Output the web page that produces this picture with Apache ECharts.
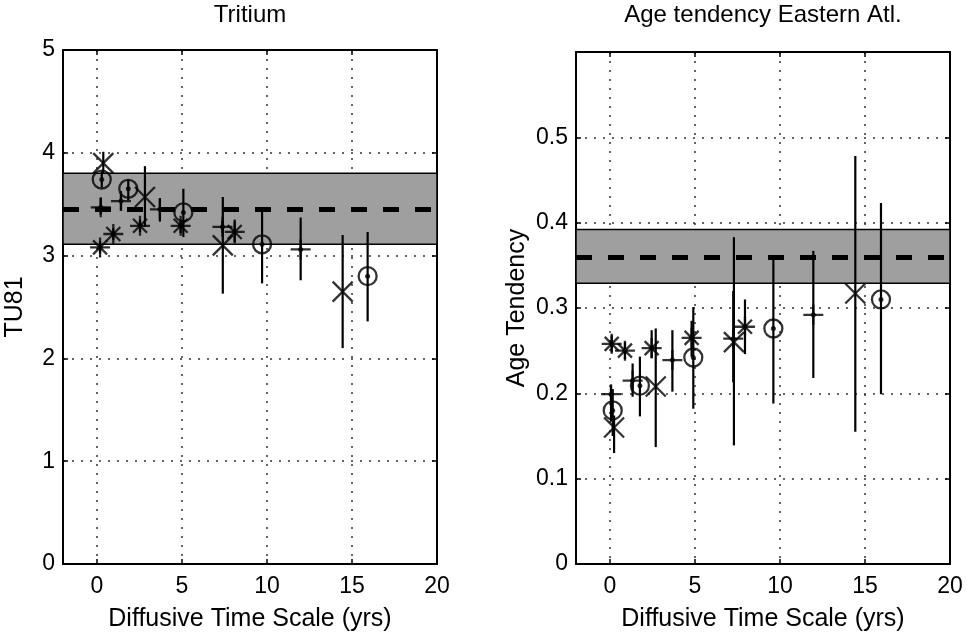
<!DOCTYPE html>
<html>
<head>
<meta charset="utf-8">
<title>Tritium / Age tendency</title>
<script src="https://cdn.jsdelivr.net/npm/echarts@6/dist/echarts.min.js"></script>
<style>
    html, body { margin: 0; padding: 0; background: #fff; }
    #chart { width: 967px; height: 638px; }
</style>
</head>
<body>
<div id="chart"></div>
<script>

// ticks shared by both panels
var x_ticks = [0, 5, 10, 15, 20];
var tu_y_ticks = [0, 1, 2, 3, 4, 5];
var age_y_ticks = [0, 0.1, 0.2, 0.3, 0.4, 0.5];

//----------- Tritium panel data ---------//
var tu_band = [3.11, 3.80];
var tu_mean = 3.45;

var tu_circle_x  = [0.28, 1.84, 5.08, 9.71, 15.92];
var tu_circle_y  = [3.74, 3.65, 3.42, 3.11, 2.80];
var tu_circle_lo = [3.66, 3.54, 3.18, 2.73, 2.36];
var tu_circle_hi = [3.82, 3.74, 3.65, 3.43, 3.23];

var tu_cross_x  = [0.37, 2.82, 7.40, 14.45];
var tu_cross_y  = [3.90, 3.57, 3.10, 2.65];
var tu_cross_lo = [3.80, 3.28, 2.63, 2.10];
var tu_cross_hi = [4.01, 3.87, 3.57, 3.20];

var tu_plus_x  = [0.22, 1.41, 3.70, 7.38, 11.98];
var tu_plus_y  = [3.47, 3.53, 3.45, 3.28, 3.06];
var tu_plus_lo = [3.40, 3.44, 3.33, 3.22, 2.76];
var tu_plus_hi = [3.56, 3.59, 3.56, 3.34, 3.37];

var tu_star_x  = [0.18, 0.96, 2.53, 4.92, 8.10];
var tu_star_y  = [3.08, 3.21, 3.29, 3.29, 3.23];
var tu_star_lo = [3.02, 3.15, 3.23, 3.22, 3.12];
var tu_star_hi = [3.14, 3.27, 3.35, 3.35, 3.35];

//----------- Age tendency panel data ---------//
var age_band = [0.329, 0.392];
var age_mean = 0.361;

var age_circle_x  = [0.16, 1.76, 4.90, 9.61, 15.94];
var age_circle_y  = [0.180, 0.209, 0.242, 0.276, 0.310];
var age_circle_lo = [0.150, 0.173, 0.182, 0.188, 0.199];
var age_circle_hi = [0.205, 0.243, 0.301, 0.361, 0.423];

var age_cross_x  = [0.24, 2.69, 7.29, 14.43];
var age_cross_y  = [0.160, 0.208, 0.260, 0.317];
var age_cross_lo = [0.130, 0.137, 0.139, 0.155];
var age_cross_hi = [0.174, 0.276, 0.383, 0.478];

var age_plus_x  = [0.06, 1.33, 3.67, 7.25, 11.96];
var age_plus_y  = [0.199, 0.215, 0.239, 0.264, 0.292];
var age_plus_lo = [0.167, 0.196, 0.202, 0.213, 0.218];
var age_plus_hi = [0.209, 0.235, 0.274, 0.320, 0.367];

var age_star_x  = [0.10, 0.88, 2.45, 4.80, 7.94];
var age_star_y  = [0.258, 0.250, 0.253, 0.265, 0.278];
var age_star_lo = [0.248, 0.240, 0.241, 0.243, 0.246];
var age_star_hi = [0.268, 0.260, 0.274, 0.285, 0.310];


var FONT = '"Liberation Sans", Arial, Helvetica, sans-serif';

var SYM_CROSS = 'path://M0,0L10,10M10,0L0,10';
var SYM_PLUS  = 'path://M5,0L5,10M0,5L10,5';
var SYM_STAR  = 'path://M5,0L5,10M0,5L10,5M1.5,1.5L8.5,8.5M8.5,1.5L1.5,8.5';


function zip2(a, b) {
    var out = [];
    for (var i = 0; i < a.length; i++) out.push([a[i], b[i]]);
    return out;
}

function zip3(a, b, c) {
    var out = [];
    for (var i = 0; i < a.length; i++) out.push([a[i], b[i], c[i]]);
    return out;
}

function errorbars(xi, yi, xs, lo, hi) {
    return {
        type: 'custom',
        xAxisIndex: xi,
        yAxisIndex: yi,
        silent: true,
        z: 4,
        data: zip3(xs, lo, hi),
        encode: { x: 0, y: [1, 2] },
        renderItem: function (params, api) {
            var a = api.coord([api.value(0), api.value(1)]);
            var b = api.coord([api.value(0), api.value(2)]);
            return {
                type: 'line',
                shape: { x1: a[0], y1: a[1], x2: b[0], y2: b[1] },
                style: { stroke: '#000', lineWidth: 2.2 }
            };
        }
    };
}

function markers(xi, yi, xs, ys, symbol, size) {
    return {
        type: 'scatter',
        xAxisIndex: xi,
        yAxisIndex: yi,
        silent: true,
        z: 5,
        symbol: symbol,
        symbolSize: size,
        data: zip2(xs, ys),
        itemStyle: { color: 'rgba(0,0,0,0)', borderColor: '#000', borderWidth: 2.3 }
    };
}

function dots(xi, yi, xs, ys) {
    return {
        type: 'scatter',
        xAxisIndex: xi,
        yAxisIndex: yi,
        silent: true,
        z: 6,
        symbol: 'circle',
        symbolSize: 5,
        data: zip2(xs, ys),
        itemStyle: { color: '#000' }
    };
}

// shaded band + dashed mean line, drawn through the axes
function band(xi, yi, range, mean) {
    return {
        type: 'scatter',
        xAxisIndex: xi,
        yAxisIndex: yi,
        silent: true,
        z: 3,
        data: [],
        markArea: {
            silent: true,
            itemStyle: { color: '#9f9f9f', borderColor: '#000', borderWidth: 1.5 },
            data: [[{ yAxis: range[0] }, { yAxis: range[1] }]]
        },
        markLine: {
            silent: true,
            symbol: ['none', 'none'],
            label: { show: false },
            lineStyle: { color: '#000', width: 5, type: [16, 16] },
            data: [{ yAxis: mean }]
        }
    };
}

function panelSeries(xi, yi, d) {
    return [
        band(xi, yi, d.band, d.mean),
        errorbars(xi, yi, d.circle[0], d.circle[2], d.circle[3]),
        errorbars(xi, yi, d.cross[0], d.cross[2], d.cross[3]),
        errorbars(xi, yi, d.plus[0], d.plus[2], d.plus[3]),
        errorbars(xi, yi, d.star[0], d.star[2], d.star[3]),
        markers(xi, yi, d.circle[0], d.circle[1], 'circle', 18),
        markers(xi, yi, d.cross[0], d.cross[1], SYM_CROSS, 20),
        markers(xi, yi, d.plus[0], d.plus[1], SYM_PLUS, 20),
        markers(xi, yi, d.star[0], d.star[1], SYM_STAR, 20),
        dots(xi, yi, d.circle[0], d.circle[1]),
        dots(xi, yi, d.plus[0], d.plus[1]),
        dots(xi, yi, d.star[0], d.star[1])
    ];
}

function xAxes(grid) {
    var common = {
        type: 'value',
        gridIndex: grid,
        min: -2,
        max: 20,
        axisLine: { show: true, onZero: false, lineStyle: { color: '#000', width: 2 } },
        axisTick: { show: true, inside: true, length: 5, customValues: x_ticks, lineStyle: { color: '#000', width: 1.5 } }
    };
    var bottom = Object.assign({}, common, {
        position: 'bottom',
        name: 'Diffusive Time Scale (yrs)',
        nameLocation: 'middle',
        nameGap: 43,
        nameTextStyle: { color: '#000', fontSize: 25, fontFamily: FONT },
        axisLabel: { customValues: x_ticks, color: '#000', fontSize: 23, fontFamily: FONT, margin: 11 },
        splitLine: { show: true, lineStyle: { color: '#333', width: 1.5, type: [2, 7] } }
    });
    var top = Object.assign({}, common, {
        position: 'top',
        axisLabel: { show: false },
        splitLine: { show: false }
    });
    return [bottom, top];
}

function yAxes(grid, max, ticks, name, gap) {
    var common = {
        type: 'value',
        gridIndex: grid,
        min: 0,
        max: max,
        interval: ticks[1] - ticks[0],
        axisLine: { show: true, onZero: false, lineStyle: { color: '#000', width: 2 } },
        axisTick: { show: true, inside: true, length: 5, lineStyle: { color: '#000', width: 1.5 } }
    };
    var left = Object.assign({}, common, {
        position: 'left',
        name: name,
        nameLocation: 'middle',
        nameGap: gap,
        nameTextStyle: { color: '#000', fontSize: 25, fontFamily: FONT },
        axisLabel: { customValues: ticks, color: '#000', fontSize: 23, fontFamily: FONT, margin: 8 },
        splitLine: { show: true, lineStyle: { color: '#333', width: 1.5, type: [2, 7] } }
    });
    var right = Object.assign({}, common, {
        position: 'right',
        axisLabel: { show: false },
        splitLine: { show: false }
    });
    return [left, right];
}


var tu = {
    band: tu_band, mean: tu_mean,
    circle: [tu_circle_x, tu_circle_y, tu_circle_lo, tu_circle_hi],
    cross: [tu_cross_x, tu_cross_y, tu_cross_lo, tu_cross_hi],
    plus: [tu_plus_x, tu_plus_y, tu_plus_lo, tu_plus_hi],
    star: [tu_star_x, tu_star_y, tu_star_lo, tu_star_hi]
};

var age = {
    band: age_band, mean: age_mean,
    circle: [age_circle_x, age_circle_y, age_circle_lo, age_circle_hi],
    cross: [age_cross_x, age_cross_y, age_cross_lo, age_cross_hi],
    plus: [age_plus_x, age_plus_y, age_plus_lo, age_plus_hi],
    star: [age_star_x, age_star_y, age_star_lo, age_star_hi]
};

var chart = echarts.init(document.getElementById('chart'), null, { renderer: 'canvas' });

var option = {
    animation: false,
    backgroundColor: '#fff',
    grid: [
        { left: 63, top: 50, width: 374, height: 514 },
        { left: 576, top: 52, width: 374, height: 512 }
    ],
    xAxis: xAxes(0).concat(xAxes(1)),
    yAxis: yAxes(0, 5, tu_y_ticks, 'TU81', 35).concat(yAxes(1, 0.6, age_y_ticks, 'Age Tendency', 46)),
    graphic: [
        {
            type: 'text', x: 250, y: 3,
            style: { text: 'Tritium', fill: '#000', font: '24px ' + FONT, textAlign: 'center', textVerticalAlign: 'top' }
        },
        {
            type: 'text', x: 763, y: 3,
            style: { text: 'Age tendency Eastern Atl.', fill: '#000', font: '24px ' + FONT, textAlign: 'center', textVerticalAlign: 'top' }
        }
    ],
    series: panelSeries(0, 0, tu).concat(panelSeries(2, 2, age))
};

chart.setOption(option);

</script>
</body>
</html>
